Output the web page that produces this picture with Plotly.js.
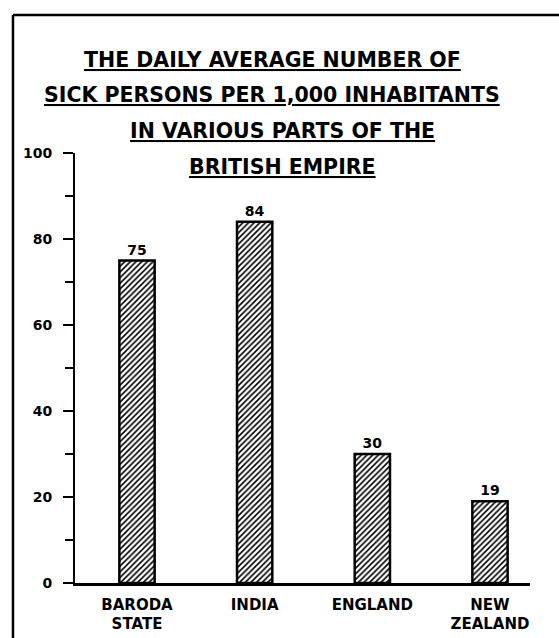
<!DOCTYPE html>
<html><head><meta charset="utf-8">
<script src="https://cdn.plot.ly/plotly-3.0.1.min.js"></script>
<style>html,body{margin:0;padding:0;background:#fff;}#chart{width:559px;height:638px;}</style>
</head><body><div id="chart"></div>
<script>
const categories = ["BARODA<br>STATE", "INDIA", "ENGLAND", "NEW<br>ZEALAND"];
const sickPer1000 = [75, 84, 30, 19];
const barLabels = ["75", "84", "30", "19"];
const yTickVals = [0, 20, 40, 60, 80, 100];
const yTickText = ["0", "20", "40", "60", "80", "100"];
const titleLines = [
  "THE DAILY AVERAGE NUMBER OF",
  "SICK PERSONS PER 1,000 INHABITANTS",
  "IN VARIOUS PARTS OF THE",
  "BRITISH EMPIRE"
];

const FONT = "DejaVu Sans, sans-serif";
const titleX = [0.433, 0.433, 0.455, 0.457];
const titleY = [1.216, 1.134, 1.052, 0.967];

const trace = {
  type: "bar",
  x: [0, 1, 2, 3],
  y: sickPer1000,
  text: barLabels,
  textposition: "outside",
  texttemplate: "%{text}",
  cliponaxis: false,
  textfont: {family: FONT, size: 14, color: "#000", weight: "bold"},
  width: 0.3,
  marker: {
    color: "#fff",
    line: {color: "#000", width: 2.5},
    pattern: {shape: "/", fgcolor: "#000", bgcolor: "#fff", size: 4, solidity: 0.4}
  },
  hoverinfo: "skip"
};

const annotations = titleLines.map((t, i) => ({
  text: t,
  xref: "paper", yref: "paper",
  x: titleX[i], y: titleY[i],
  xanchor: "center", yanchor: "middle",
  showarrow: false,
  font: {family: FONT, size: 20.5, color: "#000", weight: "bold", lineposition: "under"}
}));

const shapes = [
  {type: "line", xref: "paper", yref: "paper", x0: -0.1363, x1: -0.1363, y0: 1.321, y1: -0.13, line: {color: "#000", width: 2.5}},
  {type: "line", xref: "paper", yref: "paper", x0: -0.1363, x1: 1.07, y0: 1.321, y1: 1.321, line: {color: "#000", width: 2.5}}
];

const layout = {
  width: 559, height: 638,
  margin: {l: 75, r: 29, t: 153, b: 55, pad: 0},
  paper_bgcolor: "#fff", plot_bgcolor: "#fff",
  showlegend: false,
  font: {family: FONT, color: "#000"},
  xaxis: {
    range: [-0.527, 3.34],
    tickvals: [0, 1, 2, 3],
    ticktext: categories,
    showgrid: false, zeroline: false,
    showline: true, linecolor: "#000", linewidth: 2.5,
    ticks: "",
    ticklabelstandoff: 6,
    tickfont: {family: FONT, size: 15, color: "#000", weight: "bold"},
    fixedrange: true
  },
  yaxis: {
    range: [0, 100],
    tickvals: yTickVals,
    ticktext: yTickText,
    showgrid: false, zeroline: false,
    showline: true, linecolor: "#000", linewidth: 2,
    ticks: "outside", ticklen: 10, tickwidth: 2, tickcolor: "#000",
    ticklabelstandoff: 8,
    minor: {tickvals: [10, 30, 50, 70, 90], ticks: "outside", ticklen: 8, tickwidth: 2, tickcolor: "#000"},
    tickfont: {family: FONT, size: 14, color: "#000", weight: "bold"},
    fixedrange: true
  },
  annotations: annotations,
  shapes: shapes
};

Plotly.newPlot("chart", [trace], layout, {displayModeBar: false, staticPlot: true});
</script>
</body></html>
